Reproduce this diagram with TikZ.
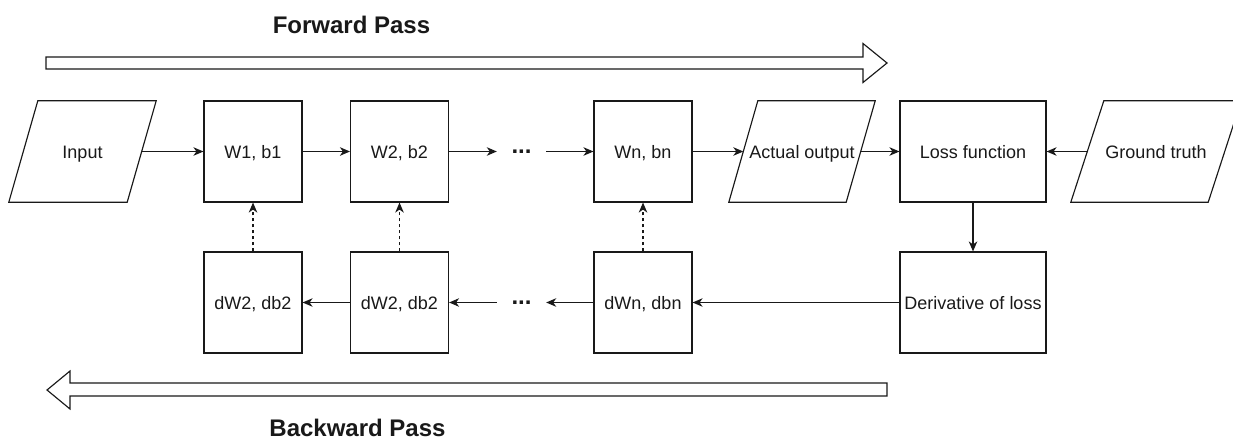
\documentclass[tikz,border=0pt]{standalone}
\usepackage{fontspec}
\setmainfont{Liberation Sans}
\usetikzlibrary{arrows.meta,calc}
\begin{document}
\begin{tikzpicture}[x=1pt,y=-1pt,
  every node/.style={font=\fontsize{18}{22}\selectfont, text=black!90},
  box/.style={draw=black!90, line width=1.15pt, minimum width=98pt, minimum height=101pt, inner sep=0pt, text height=13pt, text depth=0pt},
  wide/.style={box, minimum width=146pt},
  io/.style={minimum height=101pt, inner sep=0pt, text height=13pt, text depth=0pt},
  link/.style={line width=1.15pt, draw=black!90, -{Stealth[length=10pt,width=8.5pt,inset=3pt]}},
  update/.style={link, dash pattern=on 3.5pt off 2.5pt},
  title/.style={font=\fontsize{24}{28}\selectfont\bfseries},
  dots/.style={font=\fontsize{24}{28}\selectfont\bfseries, minimum width=49pt, inner sep=0pt},
  bigarrow/.style={draw=black!90, line width=1.15pt, fill=white, line join=miter}
]
\useasboundingbox (0,0) rectangle (1233,441);
\fill[white] (0,0) rectangle (1233,441);
\clip (0,0) rectangle (1233,441);

% forward layers
\node[io, minimum width=118pt] (in) at (82.5,151.5) {Input};
\node[box] (w1) at (253,151.5) {W1, b1};
\node[box] (w2) at (399.5,151.5) {W2, b2};
\node[dots] (fdots) at (521.5,151.5) {...};
\node[box] (wn) at (643,151.5) {Wn, bn};
\node[io, minimum width=117pt] (out) at (802,151.5) {Actual output};
\node[wide] (loss) at (973,151.5) {Loss function};
\node[io, minimum width=137pt] (gt) at (1156,151.5) {Ground truth};

% gradients
\node[box] (d1) at (253,302.5) {dW2, db2};
\node[box] (d2) at (399.5,302.5) {dW2, db2};
\node[dots] (bdots) at (521.5,302.5) {...};
\node[box] (dn) at (643,302.5) {dWn, dbn};
\node[wide] (dl) at (973,302.5) {Derivative of loss};

% data parallelograms
\foreach \n/\s in {in/29, out/29, gt/33}
  \draw[line width=1.15pt, draw=black!90]
    ($(\n.south west)+(-\s/2,0)$) -- ($(\n.north west)+(\s/2,0)$) --
    ($(\n.north east)+(\s/2,0)$) -- ($(\n.south east)+(-\s/2,0)$) -- cycle;

% forward connections
\draw[link] (in) -- (w1);
\draw[link] (w1) -- (w2);
\draw[link] (w2) -- (fdots);
\draw[link] (fdots) -- (wn);
\draw[link] (wn) -- (out);
\draw[link] (out) -- (loss);
\draw[link] (gt) -- (loss);

% backward connections
\draw[link] (loss) -- (dl);
\draw[link] (dl) -- (dn);
\draw[link] (dn) -- (bdots);
\draw[link] (bdots) -- (d2);
\draw[link] (d2) -- (d1);

% parameter updates
\draw[update] (d1) -- (w1);
\draw[update] (d2) -- (w2);
\draw[update] (dn) -- (wn);

% pass direction arrows
\draw[bigarrow] (46,57) -- (863,57) -- (863,43.5) -- (887,63) -- (863,82.5) -- (863,69) -- (46,69) -- cycle;
\draw[bigarrow] (887,383) -- (70,383) -- (70,371) -- (47,390) -- (70,409) -- (70,396) -- (887,396) -- cycle;
\node[title] (fwd) at (351.5,25) {Forward Pass};
\node[title] (bwd) at (357.5,428) {Backward Pass};
\end{tikzpicture}
\end{document}
